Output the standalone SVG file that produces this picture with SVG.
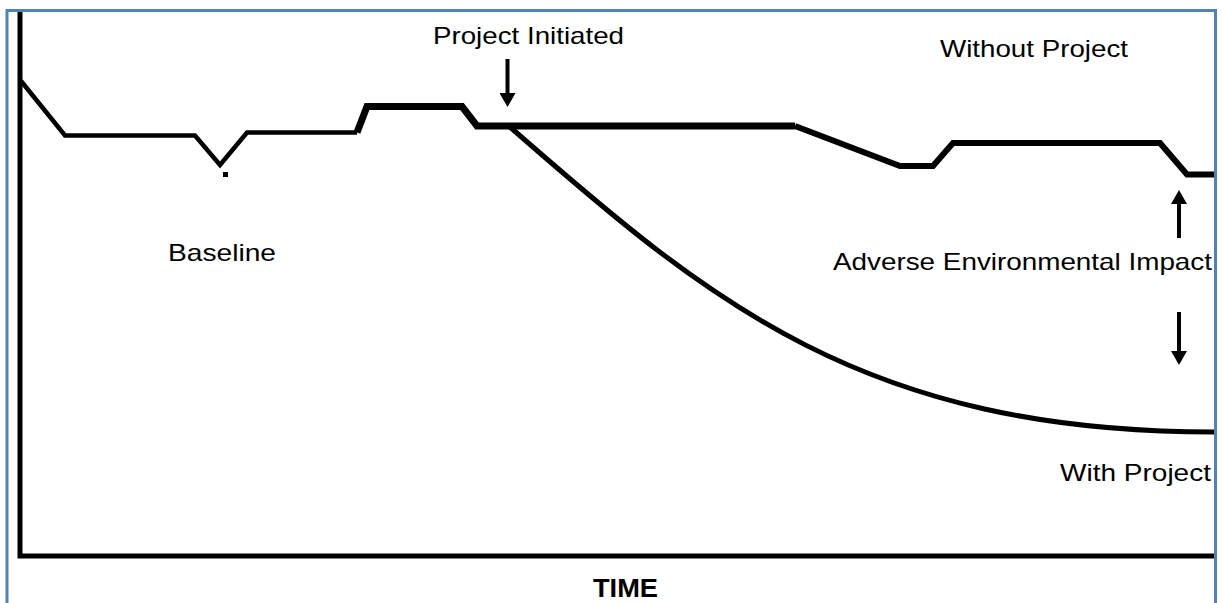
<svg xmlns="http://www.w3.org/2000/svg" width="1222" height="603" viewBox="0 0 1222 603">
<style>
.lbl{font-family:"Liberation Sans",Arial,sans-serif;font-size:24px;fill:#000}
.ttl{font-family:"Liberation Sans",Arial,sans-serif;font-size:26px;font-weight:bold;fill:#000}
.ln{fill:none;stroke:#000;stroke-linejoin:miter;stroke-linecap:butt}
.arr{stroke:#000;stroke-width:4;fill:none;marker-end:url(#ah)}
</style>
<defs>
<marker id="ah" markerUnits="userSpaceOnUse" markerWidth="14" markerHeight="16" viewBox="0 0 14 16" refX="0" refY="8" orient="auto">
<path d="M0,0 L14,8 L0,16 z" fill="#000"/>
</marker>
</defs>
<rect width="1222" height="603" fill="#fff"/>
<rect id="frame" x="7" y="10.5" width="1208.5" height="600" fill="none" stroke="#4f81bd" stroke-width="3"/>
<g id="axes">
<path class="ln" d="M20,12 L20,556 L1214,556" stroke-width="5"/>
</g>
<g id="baseline-curve">
<path class="ln" d="M21,81 L65,135.5 L195,135.5 L220,165 L247,132.5 L357,132.5" stroke-width="4.5"/>
<path class="ln" d="M357,132.5 L367,106.5 L462,106.5 L477,126 L795,126" stroke-width="7"/>
<rect x="223" y="172" width="5" height="5" fill="#000"/>
</g>
<g id="without-project">
<path class="ln" d="M795,126 L900,166 L933,166 L953,143 L1160,143 L1187,174.5 L1214,174.5" stroke-width="6"/>
</g>
<g id="with-project">
<path class="ln" d="M510,127 C710,302 864,432 1214,432" stroke-width="5"/>
</g>
<g id="connectors">
<line class="arr" x1="507.5" y1="59" x2="507.5" y2="93"/>
<line class="arr" x1="1179" y1="238" x2="1179" y2="204"/>
<line class="arr" x1="1179" y1="312" x2="1179" y2="351"/>
</g>
<g id="labels">
<text id="t-initiated" class="lbl" x="433" y="44" textLength="191" lengthAdjust="spacingAndGlyphs">Project Initiated</text>
<text id="t-without" class="lbl" x="940" y="57" textLength="188" lengthAdjust="spacingAndGlyphs">Without Project</text>
<text id="t-baseline" class="lbl" x="168" y="261" textLength="108" lengthAdjust="spacingAndGlyphs">Baseline</text>
<text id="t-impact" class="lbl" x="833" y="270" textLength="379" lengthAdjust="spacingAndGlyphs">Adverse Environmental Impact</text>
<text id="t-with" class="lbl" x="1060" y="481" textLength="151" lengthAdjust="spacingAndGlyphs">With Project</text>
<text id="t-time" class="ttl" x="593" y="597" textLength="65" lengthAdjust="spacingAndGlyphs">TIME</text>
</g>
</svg>
